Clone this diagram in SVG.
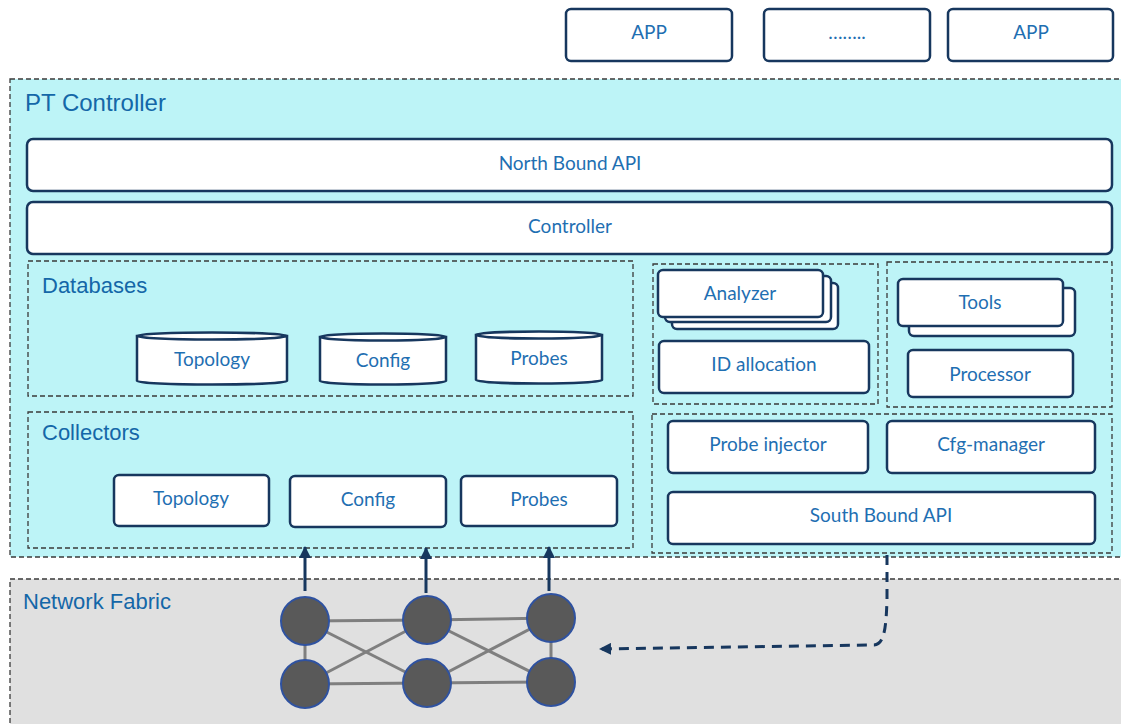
<svg xmlns="http://www.w3.org/2000/svg" width="1121" height="724" viewBox="0 0 1121 724">
  <style>
    .frame { fill: none; stroke: #3a3a3a; stroke-width: 1.3; stroke-dasharray: 5 3; }
    .box { fill: #ffffff; stroke: #17375e; stroke-width: 2.5; }
    .lbl { font-family: Lato, "Liberation Sans", sans-serif; font-size: 19px; fill: #1f6fb2; text-anchor: middle; }
    .head { font-family: "Liberation Sans", Arial, sans-serif; font-size: 22px; fill: #1467a8; }
    .link { stroke: #7f7f7f; stroke-width: 3; }
    .node { fill: #595959; stroke: #2f52a0; stroke-width: 2; }
    .flow { fill: none; stroke: #17375e; stroke-width: 3; }
  </style>
  <defs>
    <marker id="tri" markerUnits="userSpaceOnUse" markerWidth="12" markerHeight="12" viewBox="0 0 12 12" refX="11" refY="6" orient="auto">
      <path d="M0,0 L12,6 L0,12 Z" fill="#17375e"/>
    </marker>
  </defs>

  <rect width="1121" height="724" fill="#ffffff"/>

  <!-- applications on top -->
  <g id="app-1">
    <rect class="box" x="566" y="9" width="166" height="52" rx="5"/>
    <text class="lbl" x="649" y="39">APP</text>
  </g>
  <g id="app-more">
    <rect class="box" x="764" y="9" width="166" height="52" rx="5"/>
    <text class="lbl" x="847" y="39">……..</text>
  </g>
  <g id="app-2">
    <rect class="box" x="948" y="9" width="165" height="52" rx="5"/>
    <text class="lbl" x="1031" y="39">APP</text>
  </g>

  <!-- controller frame -->
  <g id="pt-controller">
    <rect x="10" y="79" width="1120" height="478" fill="#bdf4f7"/>
    <rect class="frame" x="10" y="79" width="1120" height="478"/>
    <text class="head" x="25" y="111" style="font-size:24px">PT Controller</text>
  </g>

  <g id="north-bound-api">
    <rect class="box" x="27" y="139" width="1085" height="52" rx="6"/>
    <text class="lbl" x="570" y="170">North Bound API</text>
  </g>
  <g id="controller">
    <rect class="box" x="27" y="202" width="1085" height="52" rx="6"/>
    <text class="lbl" x="570" y="233">Controller</text>
  </g>

  <!-- databases -->
  <g id="databases">
    <rect class="frame" x="28" y="261" width="605" height="135"/>
    <text class="head" x="42" y="293">Databases</text>
  </g>
  <g id="db-topology">
    <path class="box" d="M137,336 L137,381 A75,3.5 0 0 0 287,381 L287,336 Z"/>
    <ellipse class="box" cx="212" cy="336" rx="75" ry="3.5"/>
    <text class="lbl" x="212" y="366">Topology</text>
  </g>
  <g id="db-config">
    <path class="box" d="M320,337 L320,381 A63,3.5 0 0 0 446,381 L446,337 Z"/>
    <ellipse class="box" cx="383" cy="337" rx="63" ry="3.5"/>
    <text class="lbl" x="383" y="367">Config</text>
  </g>
  <g id="db-probes">
    <path class="box" d="M476,335 L476,380 A63,3.5 0 0 0 602,380 L602,335 Z"/>
    <ellipse class="box" cx="539" cy="335" rx="63" ry="3.5"/>
    <text class="lbl" x="539" y="365">Probes</text>
  </g>

  <!-- collectors -->
  <g id="collectors">
    <rect class="frame" x="28" y="412" width="605" height="136"/>
    <text class="head" x="42" y="440">Collectors</text>
  </g>
  <g id="col-topology">
    <rect class="box" x="114" y="475" width="155" height="51" rx="5"/>
    <text class="lbl" x="191" y="505">Topology</text>
  </g>
  <g id="col-config">
    <rect class="box" x="290" y="476" width="156" height="51" rx="5"/>
    <text class="lbl" x="368" y="506">Config</text>
  </g>
  <g id="col-probes">
    <rect class="box" x="461" y="476" width="156" height="50" rx="5"/>
    <text class="lbl" x="539" y="506">Probes</text>
  </g>

  <!-- analysis group -->
  <g id="analysis">
    <rect class="frame" x="653" y="264" width="225" height="140"/>
  </g>
  <g id="analyzer">
    <rect class="box" x="672" y="283" width="166" height="46" rx="5"/>
    <rect class="box" x="665" y="276" width="166" height="46" rx="5"/>
    <rect class="box" x="658" y="270" width="165" height="47" rx="5"/>
    <text class="lbl" x="740" y="300">Analyzer</text>
  </g>
  <g id="id-allocation">
    <rect class="box" x="659" y="341" width="210" height="52" rx="5"/>
    <text class="lbl" x="764" y="371">ID allocation</text>
  </g>

  <!-- tools group -->
  <g id="toolbox">
    <rect class="frame" x="887" y="262" width="225" height="145"/>
  </g>
  <g id="tools">
    <rect class="box" x="909" y="288" width="166" height="48" rx="5"/>
    <rect class="box" x="898" y="279" width="165" height="47" rx="5"/>
    <text class="lbl" x="980" y="309">Tools</text>
  </g>
  <g id="processor">
    <rect class="box" x="908" y="350" width="165" height="47" rx="5"/>
    <text class="lbl" x="990" y="381">Processor</text>
  </g>

  <!-- southbound group -->
  <g id="southbound">
    <rect class="frame" x="652" y="414" width="460" height="139"/>
  </g>
  <g id="probe-injector">
    <rect class="box" x="668" y="421" width="200" height="52" rx="5"/>
    <text class="lbl" x="768" y="451">Probe injector</text>
  </g>
  <g id="cfg-manager">
    <rect class="box" x="887" y="421" width="208" height="52" rx="5"/>
    <text class="lbl" x="991" y="451">Cfg-manager</text>
  </g>
  <g id="south-bound-api">
    <rect class="box" x="668" y="492" width="427" height="52" rx="5"/>
    <text class="lbl" x="881" y="522">South Bound API</text>
  </g>

  <!-- network fabric -->
  <g id="network-fabric">
    <rect x="10" y="579" width="1120" height="160" fill="#e0e0e0"/>
    <rect class="frame" x="10" y="579" width="1120" height="160"/>
    <text class="head" x="23" y="609">Network Fabric</text>
  </g>

  <!-- connectors -->
  <g id="connectors">
    <g id="fabric-links">
      <line class="link" x1="305" y1="621" x2="305" y2="684"/>
      <line class="link" x1="305" y1="621" x2="427" y2="620"/>
      <line class="link" x1="305" y1="684" x2="427" y2="683"/>
      <line class="link" x1="305" y1="621" x2="427" y2="683"/>
      <line class="link" x1="305" y1="684" x2="427" y2="620"/>
      <line class="link" x1="427" y1="620" x2="551" y2="618"/>
      <line class="link" x1="427" y1="683" x2="551" y2="682"/>
      <line class="link" x1="427" y1="620" x2="551" y2="682"/>
      <line class="link" x1="427" y1="683" x2="551" y2="618"/>
      <line class="link" x1="551" y1="618" x2="551" y2="682"/>
    </g>
    <line class="flow" x1="305" y1="591" x2="305" y2="547" marker-end="url(#tri)"/>
    <line class="flow" x1="426" y1="593" x2="426" y2="548" marker-end="url(#tri)"/>
    <line class="flow" x1="549" y1="591" x2="549" y2="547" marker-end="url(#tri)"/>
    <path class="flow" stroke-dasharray="10 7" d="M887,555 L887,600 C886,630 884,644 874,645 L600,649" marker-end="url(#tri)"/>
  </g>

  <!-- fabric switches -->
  <g id="switches">
    <circle class="node" cx="305" cy="621" r="24"/>
    <circle class="node" cx="305" cy="684" r="24"/>
    <circle class="node" cx="427" cy="620" r="24"/>
    <circle class="node" cx="427" cy="683" r="24"/>
    <circle class="node" cx="551" cy="618" r="24"/>
    <circle class="node" cx="551" cy="682" r="24"/>
  </g>
</svg>
